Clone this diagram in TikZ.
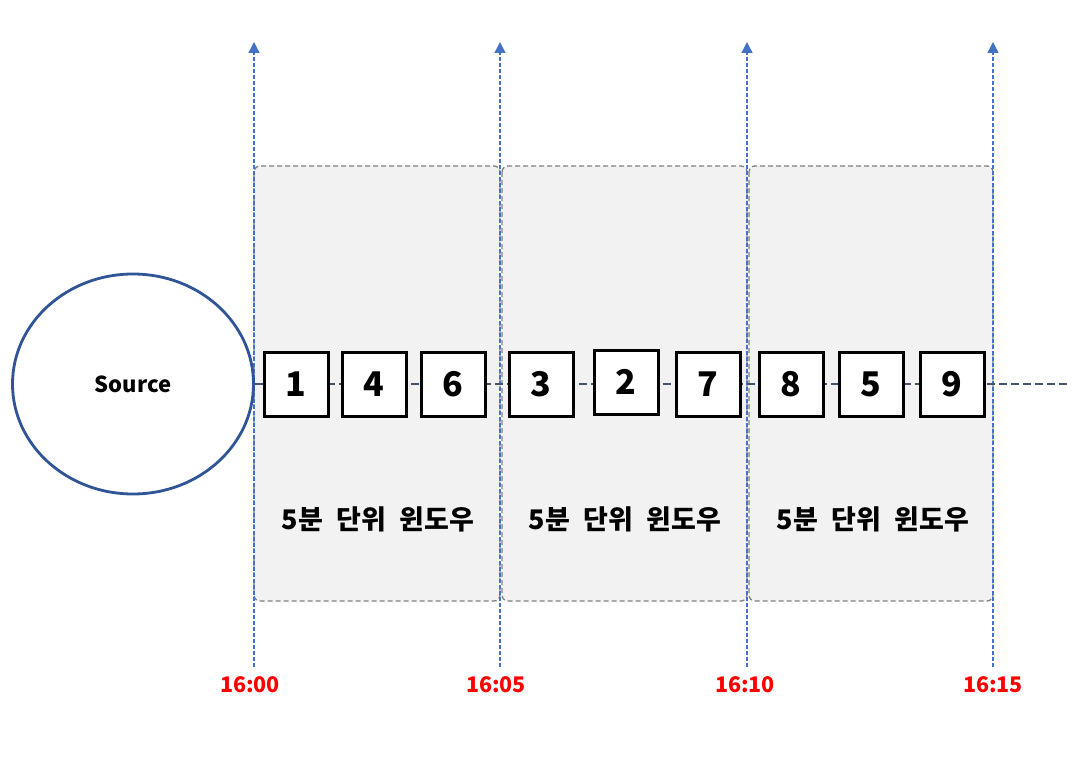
\documentclass[tikz,border=0pt]{standalone}
\usepackage{fontspec}
\setmainfont{Noto Sans CJK KR}
\newfontfamily\krwide{Noto Sans CJK KR}[WordSpace = 2.2]
\usetikzlibrary{arrows.meta,shapes.geometric}

\definecolor{winfill}{HTML}{F2F2F2}
\definecolor{wingray}{HTML}{7F7F7F}
\definecolor{tickblue}{HTML}{4472C4}
\definecolor{srcblue}{HTML}{2F5597}
\definecolor{flowgray}{HTML}{44546A}

\begin{document}
\begin{tikzpicture}[x = 1pt, y = -1pt,
    window/.style = {fill = winfill, draw = wingray, line width = 1.3pt,
        dash pattern = on 5pt off 3pt, rounded corners = 6pt},
    tick/.style = {draw = tickblue, line width = 1.4pt, dash pattern = on 4pt off 2pt,
        -{Triangle[width = 11pt, length = 11pt]}},
    flow/.style = {draw = flowgray, line width = 2pt, dash pattern = on 8pt off 4pt},
    event/.style = {draw, fill = white, line width = 3pt, minimum size = 64pt,
        inner sep = 0pt, font = \fontsize{34}{34}\selectfont\bfseries},
    winlabel/.style = {font = \krwide\fontsize{27}{27}\selectfont\bfseries},
    timelabel/.style = {text = red, font = \fontsize{21.5}{21.5}\selectfont\bfseries}]
            \useasboundingbox (0, 0) rectangle (1067, 770);

            % windows
            \draw[window] (254, 166) rectangle (500, 601);
            \draw[window] (502, 166) rectangle (747, 601);
            \draw[window] (749, 166) rectangle (993, 601);

            \node[winlabel] (W1) at (378, 519){5분 단위 윈도우};
            \node[winlabel] (W2) at (625, 519){5분 단위 윈도우};
            \node[winlabel] (W3) at (873, 519){5분 단위 윈도우};

            % time marks
            \coordinate (T0b) at (254, 667);
            \coordinate (T1b) at (500, 667);
            \coordinate (T2b) at (747, 667);
            \coordinate (T3b) at (993, 667);
            \coordinate (T0t) at (254, 42);
            \coordinate (T1t) at (500, 42);
            \coordinate (T2t) at (747, 42);
            \coordinate (T3t) at (993, 42);

            \draw[tick] (T0b) -- (T0t);
            \draw[tick] (T1b) -- (T1t);
            \draw[tick] (T2b) -- (T2t);
            \draw[tick] (T3b) -- (T3t);

            \node[timelabel] (L0) at (250, 685){16:00};
            \node[timelabel] (L1) at (496, 685){16:05};
            \node[timelabel] (L2) at (745, 685){16:10};
            \node[timelabel] (L3) at (993, 685){16:15};

            % source and stream
            \node[ellipse, draw = srcblue, line width = 2.8pt, fill = white,
                minimum width = 241pt, minimum height = 220pt, inner sep = 0pt,
                font = \fontsize{22}{22}\selectfont\bfseries] (S) at (133, 384){Source};
            \coordinate (end) at (1067, 384);

            \draw[flow] (S.east) -- (end);

            \node[event] (E1) at (296, 384){1};
            \node[event] (E4) at (374, 384){4};
            \node[event] (E6) at (453, 384){6};
            \node[event] (E3) at (541, 384){3};
            \node[event] (E2) at (626, 382){2};
            \node[event] (E7) at (708, 384){7};
            \node[event] (E8) at (791, 384){8};
            \node[event] (E5) at (871, 384){5};
            \node[event] (E9) at (952, 384){9};
        \end{tikzpicture}
\end{document}
